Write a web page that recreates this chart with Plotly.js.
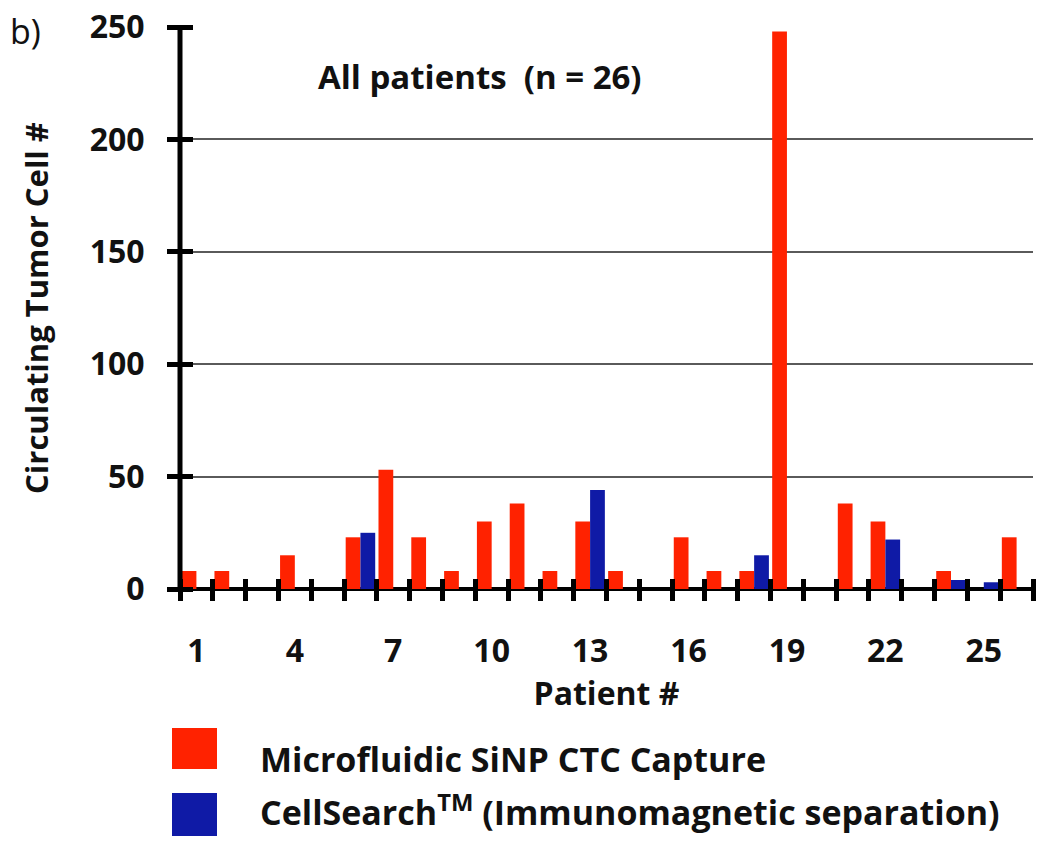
<!DOCTYPE html>
<html>
<head>
<meta charset="utf-8">
<script src="https://cdn.plot.ly/plotly-3.0.1.min.js"></script>
<style>html,body{margin:0;padding:0;background:#fff;}#chart{width:1050px;height:858px;}</style>
</head>
<body>
<div id="chart"></div>
<script>
// ---- data ----
const patients = ['1','2','3','4','5','6','7','8','9','10','11','12','13','14','15','16','17','18','19','20','21','22','23','24','25','26'];
const siNPValues = [8, 8, 0, 15, 0, 23, 53, 23, 8, 30, 38, 8, 30, 8, 0, 23, 8, 8, 248, 0, 38, 30, 0, 8, 0, 23];
const cellSearchValues = [0, 0, 0, 0, 0, 25, 0, 0, 0, 0, 0, 0, 44, 0, 0, 0, 0, 15, 0, 0, 0, 22, 0, 4, 3, 0];
const shownTickLabels = ['1','4','7','10','13','16','19','22','25'];
const yTickValues = [0, 50, 100, 150, 200, 250];
const seriesNames = ['Microfluidic SiNP CTC Capture', 'CellSearch<sup>TM</sup> (Immunomagnetic separation)'];

// ---- style ----
const RED = '#ff2200';
const BLUE = '#0f1aa6';
const FONT = '"Open Sans", Lato, sans-serif';
const TXT = '#111';

const patientNums = patients.map(Number);

const traces = [
  {type: 'bar', name: seriesNames[0], x: patientNums, y: siNPValues, marker: {color: RED}, showlegend: false},
  {type: 'bar', name: seriesNames[1], x: patientNums, y: cellSearchValues, marker: {color: BLUE}, showlegend: false}
];

// helpers to convert pixel positions into paper coordinates for decorations
const L = 180, R = 17, T = 27, B = 269, W = 1050, H = 858;
const pw = W - L - R, ph = H - T - B;
const px = v => (v - L) / pw;
const py = v => (H - B - v) / ph;

// ticks cross the axis lines: tick length doubled and the axis shifted by half of it
const XTICK = 11, YTICK = 13;

const layout = {
  width: W, height: H,
  margin: {l: L, r: R, t: T, b: B},
  paper_bgcolor: '#fff', plot_bgcolor: '#fff',
  barmode: 'group', bargap: 0.1, bargroupgap: 0,
  font: {family: FONT, color: TXT},
  xaxis: {
    type: 'linear', range: [0.5, patients.length + 0.5],
    anchor: 'free', position: XTICK / ph,
    tickmode: 'array', tickvals: shownTickLabels.map(Number), ticktext: shownTickLabels,
    ticks: '', tickangle: 0,
    minor: {tickmode: 'linear', tick0: 0.5, dtick: 1, ticks: 'outside', ticklen: 2 * XTICK, tickwidth: 5, tickcolor: '#000', showgrid: false},
    ticklabelstandoff: 51,
    tickfont: {family: FONT, size: 32, weight: 'bold', color: TXT},
    showline: false, showgrid: false, zeroline: false, fixedrange: true,
    title: {text: 'Patient #', font: {family: FONT, size: 32, weight: 'bold', color: TXT}, standoff: 12}
  },
  yaxis: {
    range: [0, 250], tickmode: 'array', tickvals: yTickValues,
    anchor: 'free', position: YTICK / pw,
    ticks: 'outside', ticklen: 2 * YTICK, tickwidth: 5, tickcolor: '#000',
    ticklabelstandoff: 16,
    tickfont: {family: FONT, size: 32, weight: 'bold', color: TXT},
    showline: false,
    showgrid: true, gridcolor: '#5a5a5a', gridwidth: 2,
    zeroline: true, zerolinecolor: '#000', zerolinewidth: 4, fixedrange: true,
    title: {text: 'Circulating Tumor Cell #', font: {family: FONT, size: 31, weight: 'bold', color: TXT}, standoff: 30}
  },
  shapes: [
    // vertical axis line
    {type: 'line', xref: 'paper', yref: 'paper', x0: 0, x1: 0, y0: 0, y1: 1, line: {color: '#000', width: 5}},
    // legend swatches
    {type: 'rect', xref: 'paper', yref: 'paper', x0: px(172), x1: px(217), y0: py(728), y1: py(769), fillcolor: RED, line: {width: 0}},
    {type: 'rect', xref: 'paper', yref: 'paper', x0: px(172), x1: px(217), y0: py(793), y1: py(836), fillcolor: BLUE, line: {width: 0}}
  ],
  annotations: [
    {xref: 'paper', yref: 'paper', x: px(480), y: py(76), xanchor: 'center', yanchor: 'middle', showarrow: false,
     text: 'All patients\u00a0 (n = 26)', font: {family: FONT, size: 33, weight: 'bold', color: TXT}},
    {xref: 'paper', yref: 'paper', x: px(8), y: py(31), xanchor: 'left', yanchor: 'middle', showarrow: false,
     text: 'b)', font: {family: FONT, size: 34, color: TXT}},
    {xref: 'paper', yref: 'paper', x: px(258), y: py(759), xanchor: 'left', yanchor: 'middle', showarrow: false,
     text: seriesNames[0], font: {family: FONT, size: 34, weight: 'bold', color: TXT}},
    {xref: 'paper', yref: 'paper', x: px(258), y: py(810), xanchor: 'left', yanchor: 'middle', showarrow: false,
     text: seriesNames[1], font: {family: FONT, size: 34, weight: 'bold', color: TXT}}
  ]
};

Plotly.newPlot('chart', traces, layout, {displayModeBar: false, staticPlot: true});
</script>
</body>
</html>
